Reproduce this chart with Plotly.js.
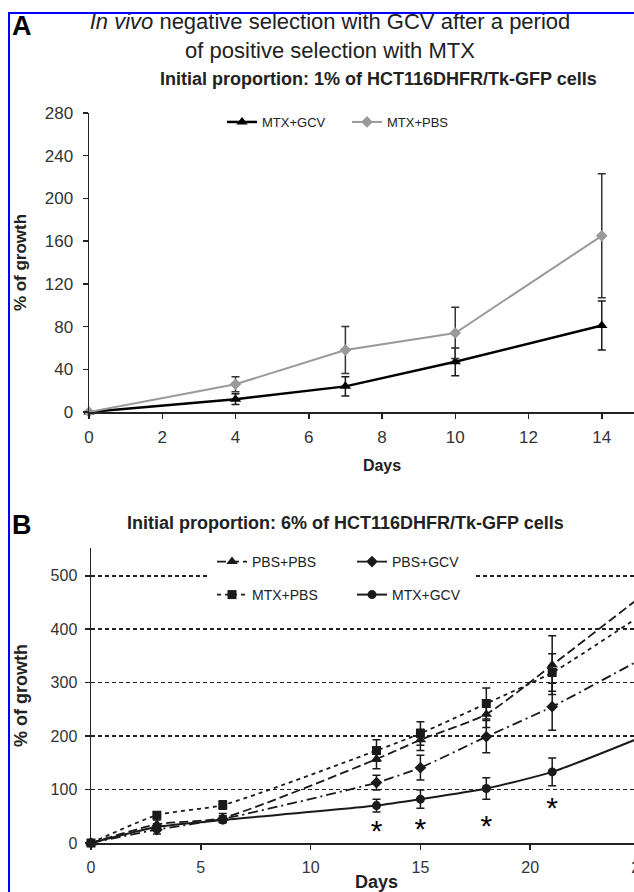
<!DOCTYPE html>
<html><head><meta charset="utf-8">
<script src="https://cdn.plot.ly/plotly-3.0.1.min.js"></script>
<style>
html,body{margin:0;padding:0;width:634px;height:892px;overflow:hidden;background:#fff;}
#chart{position:absolute;left:0;top:0;width:700px;height:892px;}
#frame{position:absolute;left:8px;top:12px;width:700px;height:900px;border-left:2.5px solid #0000ff;border-top:2.5px solid #0000ff;pointer-events:none;}
</style></head><body>
<div id="chart"></div><div id="frame"></div>
<script>
// ---------- Panel A data ----------
const daysA = [0, 4, 7, 10, 14];
const mtxGcvA = [0, 12, 24, 47, 81];
const mtxGcvAErr = [0, 5, 9, 13, 23];
const mtxPbsA = [0, 26, 58, 74, 165];
const mtxPbsAErr = [0, 7, 22, 24, 58];
const ticksAx = [0, 2, 4, 6, 8, 10, 12, 14];
const ticksAy = [0, 40, 80, 120, 160, 200, 240, 280];
const gridAy = [40, 80, 120, 160, 200, 240];

// ---------- Panel B data ----------
const daysB = [0, 3, 6, 13, 15, 18, 21, 25];
const pbsPbsB = [0, 35, 47, 157, 193, 241, 333, 460];
const pbsPbsBErr = [0, 8, 8, 18, 20, 25, 55, 50];
const pbsGcvB = [0, 25, 45, 113, 141, 199, 255, 343];
const pbsGcvBErr = [0, 8, 6, 14, 23, 30, 44, 40];
const mtxPbsB = [0, 52, 71, 173, 205, 261, 319, 425];
const mtxPbsBErr = [0, 6, 8, 20, 22, 29, 35, 50];
const mtxGcvB = [0, 30, 43, 70, 82, 102, 133, 197];
const mtxGcvBErr = [0, 6, 5, 12, 17, 20, 26, 40];
const starDays = [13, 15, 18, 21];
const starY = [17, 22, 28, 60];
const ticksBx = [0, 5, 10, 15, 20, 25];
const ticksBy = [0, 100, 200, 300, 400, 500];

// ---------- layout helpers (pixel -> paper) ----------
const W = 700, H = 892;
const px = v => v / W;
const py = v => 1 - v / H;
const FONT = '"Liberation Sans", Arial, sans-serif';
const INK = '#1a1a1a';

function err(arr, color) {
  return {type: 'data', array: arr, visible: true, color: color || INK, thickness: 1.5, width: 4};
}

const traces = [
  // Panel A
  {x: daysA, y: mtxGcvA, error_y: err(mtxGcvAErr), name: 'MTX+GCV', xaxis: 'x', yaxis: 'y',
   mode: 'lines+markers', line: {color: '#000', width: 2.5}, marker: {symbol: 'triangle-up', size: 10, color: '#000'},
   legend: 'legend', cliponaxis: false},
  {x: daysA, y: mtxPbsA, error_y: err(mtxPbsAErr, '#333'), name: 'MTX+PBS', xaxis: 'x', yaxis: 'y',
   mode: 'lines+markers', line: {color: '#9a9a9a', width: 2}, marker: {symbol: 'diamond', size: 9, color: '#9a9a9a'},
   legend: 'legend', cliponaxis: false},
  // Panel B
  {x: daysB, y: pbsPbsB, error_y: err(pbsPbsBErr), name: 'PBS+PBS', xaxis: 'x2', yaxis: 'y2',
   mode: 'lines+markers', line: {color: INK, width: 1.8, dash: '9px,4px', shape: 'spline', smoothing: 0.6},
   marker: {symbol: 'triangle-up', size: 10, color: INK}, legend: 'legend2', cliponaxis: false},
  {x: daysB, y: pbsGcvB, error_y: err(pbsGcvBErr), name: 'PBS+GCV', xaxis: 'x2', yaxis: 'y2',
   mode: 'lines+markers', line: {color: INK, width: 1.8, dash: '10px,4px,2px,4px', shape: 'spline', smoothing: 0.6},
   marker: {symbol: 'diamond', size: 9, color: INK}, legend: 'legend2', cliponaxis: false},
  {x: daysB, y: mtxPbsB, error_y: err(mtxPbsBErr), name: 'MTX+PBS', xaxis: 'x2', yaxis: 'y2',
   mode: 'lines+markers', line: {color: INK, width: 1.8, dash: '4px,4px', shape: 'spline', smoothing: 0.6},
   marker: {symbol: 'square', size: 9, color: INK}, legend: 'legend3', cliponaxis: false},
  {x: daysB, y: mtxGcvB, error_y: err(mtxGcvBErr), name: 'MTX+GCV', xaxis: 'x2', yaxis: 'y2',
   mode: 'lines+markers', line: {color: INK, width: 2, shape: 'spline', smoothing: 0.6},
   marker: {symbol: 'circle', size: 9, color: INK}, legend: 'legend3', cliponaxis: false},
  {x: starDays, y: starY, xaxis: 'x2', yaxis: 'y2', mode: 'text', text: starDays.map(() => '*'),
   textfont: {family: FONT, size: 30, color: '#000'}, textposition: 'middle center', showlegend: false,
   hoverinfo: 'skip', cliponaxis: false}
];

const axisCommon = {
  showline: true, linecolor: '#222', linewidth: 1.5, ticks: 'outside', ticklen: 5, tickwidth: 1.5,
  tickcolor: '#222', zeroline: false, showgrid: false, fixedrange: true,
  tickfont: {family: FONT, size: 17, color: '#333'}
};

const legendCommon = {
  orientation: 'h', bgcolor: 'rgba(255,255,255,0)', borderwidth: 0, xanchor: 'left', yanchor: 'middle',
  itemwidth: 30, tracegroupgap: 0
};

const layout = {
  width: W, height: H, margin: {l: 0, r: 0, t: 0, b: 0}, paper_bgcolor: '#fff', plot_bgcolor: '#fff',
  font: {family: FONT, color: INK},
  title: {text: '<i>In vivo</i> negative selection with GCV after a period<br>of positive selection with MTX',
    x: px(330), xanchor: 'center', y: py(29), yanchor: 'top', font: {family: FONT, size: 22, color: '#222'}},
  xaxis: Object.assign({}, axisCommon, {domain: [px(89), px(675)], range: [0, 16], tickvals: ticksAx, anchor: 'y',
    ticklabelstandoff: 4,
    title: {text: '<b>Days</b>', font: {family: FONT, size: 16, color: '#222'}, standoff: 14}}),
  yaxis: Object.assign({}, axisCommon, {domain: [py(412), py(113)], range: [0, 280], tickvals: ticksAy, anchor: 'x',
    ticklabelstandoff: 6,
    title: {text: '<b>% of growth</b>', font: {family: FONT, size: 17, color: '#222'}, standoff: 14}}),
  yaxis3: {overlaying: 'y', anchor: 'x', range: [0, 280], tickvals: gridAy, showticklabels: false, ticks: '',
    showgrid: true, gridcolor: '#222', gridwidth: 1.5, griddash: '4px,3px', zeroline: false, showline: false, fixedrange: true},
  xaxis2: Object.assign({}, axisCommon, {domain: [px(91), px(662)], range: [0, 26], tickvals: ticksBx, anchor: 'y2',
    tickfont: {family: FONT, size: 16, color: '#333'}, ticklabelstandoff: 4,
    title: {text: '<b>Days</b>', font: {family: FONT, size: 18, color: '#222'}, standoff: 10}}),
  yaxis2: Object.assign({}, axisCommon, {domain: [py(843), py(548)], range: [0, 552], tickvals: ticksBy, anchor: 'x2',
    tickfont: {family: FONT, size: 16, color: '#333'}, ticklabelstandoff: 4,
    showgrid: true, gridcolor: '#222', gridwidth: 1.5, griddash: '4px,3px',
    title: {text: '<b>% of growth</b>', font: {family: FONT, size: 18, color: '#222'}, standoff: 18}}),
  legend: Object.assign({}, legendCommon, {x: px(222), y: py(122), entrywidth: 80, font: {family: FONT, size: 13, color: '#222'}}),
  legend2: Object.assign({}, legendCommon, {x: px(212), y: py(562), entrywidth: 95, font: {family: FONT, size: 14, color: '#222'}}),
  legend3: Object.assign({}, legendCommon, {x: px(212), y: py(595), entrywidth: 95, font: {family: FONT, size: 14, color: '#222'}}),
  shapes: [
    {type: 'rect', xref: 'paper', yref: 'paper', x0: px(207), x1: px(475), y0: py(610), y1: py(550),
     fillcolor: '#fff', line: {width: 0}, layer: 'above'}
  ],
  annotations: [
    {text: '<b>A</b>', x: px(10), y: py(9), xref: 'paper', yref: 'paper', xanchor: 'left', yanchor: 'top',
     showarrow: false, font: {family: FONT, size: 27, color: '#000'}},
    {text: '<b>Initial proportion: 1% of HCT116DHFR/Tk-GFP cells</b>', x: px(378), y: py(79), xref: 'paper', yref: 'paper',
     xanchor: 'center', yanchor: 'middle', showarrow: false, font: {family: FONT, size: 18, color: '#222'}},
    {text: '<b>B</b>', x: px(10), y: py(508), xref: 'paper', yref: 'paper', xanchor: 'left', yanchor: 'top',
     showarrow: false, font: {family: FONT, size: 27, color: '#000'}},
    {text: '<b>Initial proportion: 6% of HCT116DHFR/Tk-GFP cells</b>', x: px(345), y: py(523), xref: 'paper', yref: 'paper',
     xanchor: 'center', yanchor: 'middle', showarrow: false, font: {family: FONT, size: 18, color: '#222'}}
  ]
};

Plotly.newPlot('chart', traces, layout, {staticPlot: true, displayModeBar: false});
</script>
</body></html>
